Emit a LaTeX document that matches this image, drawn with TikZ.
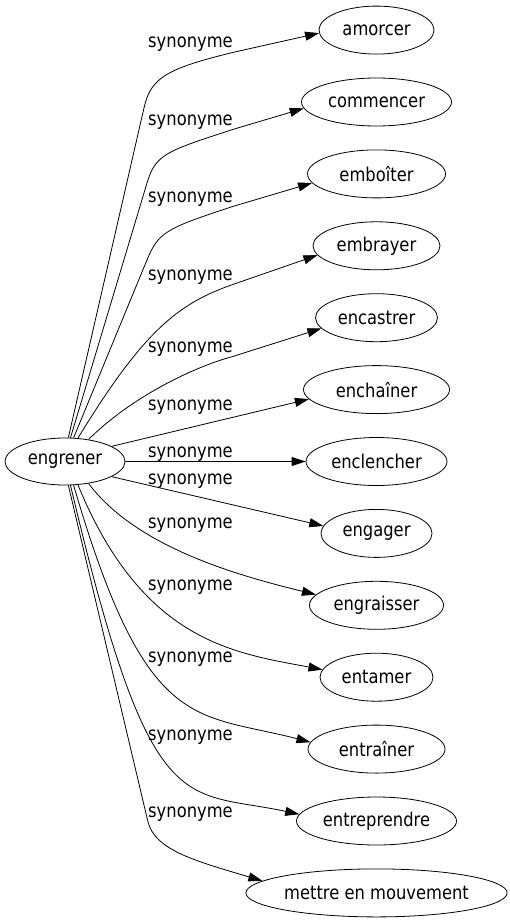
\documentclass[tikz,border=0pt]{standalone}
\usepackage{fontspec}
\setmainfont{DejaVu Sans}[FakeStretch=0.86]
\usetikzlibrary{arrows.meta,positioning,shapes.geometric}

\begin{document}
\begin{tikzpicture}[x=1pt,y=-1pt,on grid,node distance=71.9pt,
  font=\fontsize{19}{23}\selectfont,line width=0.8pt,
  word/.style={ellipse,draw,minimum height=48pt,inner sep=0pt},
  lbl/.style={anchor=base,inner sep=0pt},
  syn/.style={-{Triangle[length=14pt,width=9pt]}}]
 \useasboundingbox (0,0) rectangle (509,923);
 \node[word,minimum width=120pt,minimum height=47pt] (engrener) at (65,461.5) {engrener};
 \node[word,minimum width=141pt] (enclencher) [right=311.5pt of engrener] {enclencher};
 \node[word,minimum width=146pt] (enchainer) [above=of enclencher] {enchaîner};
 \node[word,minimum width=122pt] (encastrer) [above=of enchainer] {encastrer};
 \node[word,minimum width=127pt] (embrayer) [above=of encastrer] {embrayer};
 \node[word,minimum width=138pt] (emboiter) [above=of embrayer] {emboîter};
 \node[word,minimum width=150pt] (commencer) [above=of emboiter] {commencer};
 \node[word,minimum width=115pt] (amorcer) [above=of commencer] {amorcer};
 \node[word,minimum width=111pt] (engager) [below=of enclencher] {engager};
 \node[word,minimum width=134pt] (engraisser) [below=of engager] {engraisser};
 \node[word,minimum width=113pt] (entamer) [below=of engraisser] {entamer};
 \node[word,minimum width=137pt] (entrainer) [below=of entamer] {entraîner};
 \node[word,minimum width=160pt] (entreprendre) [below=of entrainer] {entreprendre};
 \node[word,minimum width=255pt] (mettre) [below=of entreprendre] {mettre en mouvement};
 % edge labels
 \node[lbl] (syn_1) at (190.5,48) {synonyme};
 \node[lbl] (syn_2) at (190.5,125) {synonyme};
 \node[lbl] (syn_3) at (190.5,202) {synonyme};
 \node[lbl] (syn_4) at (190.5,280) {synonyme};
 \node[lbl] (syn_5) at (190.5,352) {synonyme};
 \node[lbl] (syn_6) at (190.5,410) {synonyme};
 \node[lbl] (syn_7) at (190.5,457) {synonyme};
 \node[lbl] (syn_8) at (190.5,484) {synonyme};
 \node[lbl] (syn_9) at (190.5,528) {synonyme};
 \node[lbl] (syn_10) at (190.5,590) {synonyme};
 \node[lbl] (syn_11) at (190.5,662) {synonyme};
 \node[lbl] (syn_12) at (190.5,740) {synonyme};
 \node[lbl] (syn_13) at (190.5,817) {synonyme};
 % edges
 \draw[syn] (engrener.82) -- ++(75.7,-330) .. controls +(6.7,-29.3) and +(-68,16.6) .. (syn_1.south east) -- (amorcer.183);
 \draw[syn] (engrener.77) -- ++(76.6,-255) .. controls +(8.6,-28.7) and +(-66.5,21.7) .. (syn_2.south east) -- (commencer.185);
 \draw[syn] (engrener.70) -- ++(73.5,-178.2) .. controls +(11.4,-27.7) and +(-66.6,21.8) .. (syn_3.south east) -- (emboiter.188);
 \draw[syn] (engrener.61) .. controls +(66.4,-109) and +(-54,18.9) .. (syn_4.south east) -- (embrayer.189);
 \draw[syn] (engrener.43) .. controls +(42,-42) and +(-40,10.7) .. (syn_5.south east) -- (encastrer.191);
 \draw[syn] (engrener.18) -- (enchainer.188);
 \draw[syn] (engrener) -- (enclencher);
 \draw[syn] (engrener.-18) -- (engager.172);
 \draw[syn] (engrener.-43) .. controls +(48,64) and +(-77.7,-19.1) .. (engraisser.170);
 \draw[syn] (engrener.-61) .. controls +(64.6,157.3) and +(-88.4,-16.7) .. (entamer.172);
 \draw[syn] (engrener.-70) .. controls +(72.8,249.6) and +(-116.2,-30) .. (entrainer.174);
 \draw[syn] (engrener.-77) .. controls +(80.5,340.5) and +(-117.4,-25) .. (entreprendre.175);
 \draw[syn] (engrener.-82) -- (syn_13.south west) .. controls +(7,29) and +(-67,-20) .. (mettre.174);
\end{tikzpicture}
\end{document}
